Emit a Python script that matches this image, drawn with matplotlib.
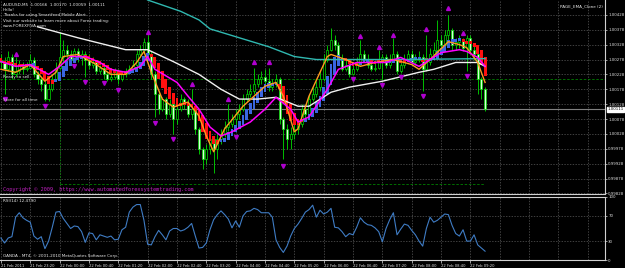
import matplotlib
matplotlib.use("Agg")
import matplotlib.pyplot as plt
import matplotlib.transforms as mtransforms
import numpy as np

# AUDUSD M5 bars, 21 Feb 22:40 .. 22 Feb 09:40
first_open = 1.00278
closes = [1.00271, 1.00245, 1.00285, 1.00228, 1.00238, 1.00261, 1.00245, 1.00251, 1.00278, 1.00228,
          1.00211, 1.00195, 1.00145, 1.00178, 1.00211, 1.00251, 1.00285, 1.00311, 1.00295, 1.00278,
          1.00305, 1.00285, 1.00295, 1.00278, 1.00261, 1.00271, 1.00238, 1.00251, 1.00228, 1.00211,
          1.00218, 1.00238, 1.00211, 1.00228, 1.00238, 1.00245, 1.00261, 1.00295, 1.00311, 1.00338,
          1.00295, 1.00228, 1.00161, 1.00111, 1.00145, 1.00095, 1.00128, 1.00078, 1.00111, 1.00145,
          1.00128, 1.00095, 1.00111, 1.00045, 0.99978, 0.99945, 0.99978, 1.00011, 0.99978, 1.00011,
          1.00028, 1.00051, 1.00061, 1.00078, 1.00095, 1.00111, 1.00145, 1.00161, 1.00171, 1.00195,
          1.00211, 1.00218, 1.00205, 1.00185, 1.00195, 1.00211, 1.00078, 1.00045, 1.00011, 1.00028,
          1.00045, 1.00061, 1.00111, 1.00095, 1.00145, 1.00161, 1.00185, 1.00211, 1.00278, 1.00311,
          1.00345, 1.00328, 1.00278, 1.00245, 1.00261, 1.00228, 1.00245, 1.00271, 1.00295, 1.00278,
          1.00261, 1.00245, 1.00251, 1.00271, 1.00285, 1.00261, 1.00278, 1.00295, 1.00238, 1.00261,
          1.00278, 1.00295, 1.00271, 1.00278, 1.00285, 1.00245, 1.00271, 1.00295, 1.00311, 1.00345,
          1.00328, 1.00361, 1.00378, 1.00328, 1.00338, 1.00345, 1.00318, 1.00351, 1.00311, 1.00295,
          1.00211, 1.00178, 1.00111]
highs = [1.00295, 1.00285, 1.00305, 1.00295, 1.00285, 1.00278, 1.00271, 1.00271, 1.00295, 1.00285,
         1.00238, 1.00218, 1.00205, 1.00195, 1.00228, 1.00271, 1.00371, 1.00345, 1.00328, 1.00311,
         1.00318, 1.00318, 1.00311, 1.00305, 1.00295, 1.00285, 1.00278, 1.00261, 1.00261, 1.00238,
         1.00238, 1.00251, 1.00245, 1.00238, 1.00251, 1.00261, 1.00278, 1.00311, 1.00328, 1.00351,
         1.00361, 1.00305, 1.00238, 1.00171, 1.00151, 1.00151, 1.00145, 1.00138, 1.00128, 1.00161,
         1.00151, 1.00145, 1.00178, 1.00118, 1.00051, 0.99985, 0.99995, 1.00018, 1.00018, 1.00028,
         1.00045, 1.00071, 1.00128, 1.00095, 1.00111, 1.00128, 1.00161, 1.00178, 1.00195, 1.00251,
         1.00228, 1.00238, 1.00245, 1.00251, 1.00211, 1.00228, 1.00218, 1.00085, 1.00061, 1.00051,
         1.00061, 1.00078, 1.00128, 1.00128, 1.00161, 1.00185, 1.00205, 1.00238, 1.00295, 1.00328,
         1.00385, 1.00361, 1.00338, 1.00295, 1.00278, 1.00278, 1.00261, 1.00285, 1.00345, 1.00311,
         1.00295, 1.00271, 1.00278, 1.00311, 1.00295, 1.00295, 1.00295, 1.00351, 1.00305, 1.00278,
         1.00295, 1.00311, 1.00311, 1.00295, 1.00305, 1.00295, 1.00361, 1.00318, 1.00338, 1.00411,
         1.00361, 1.00378, 1.00428, 1.00385, 1.00351, 1.00361, 1.00351, 1.00361, 1.00361, 1.00328,
         1.00311, 1.00218, 1.00185]
lows = [1.00251, 1.00161, 1.00238, 1.00211, 1.00218, 1.00228, 1.00228, 1.00238, 1.00245, 1.00218,
        1.00195, 1.00171, 1.00138, 1.00138, 1.00171, 1.00205, 1.00245, 1.00271, 1.00278, 1.00271,
        1.00271, 1.00271, 1.00261, 1.00218, 1.00245, 1.00251, 1.00228, 1.00228, 1.00211, 1.00205,
        1.00205, 1.00211, 1.00195, 1.00205, 1.00218, 1.00228, 1.00238, 1.00251, 1.00285, 1.00295,
        1.00285, 1.00211, 1.00085, 1.00095, 1.00105, 1.00078, 1.00085, 1.00028, 1.00061, 1.00105,
        1.00111, 1.00085, 1.00078, 1.00028, 0.99961, 0.99911, 0.99928, 0.99961, 0.99895, 0.99945,
        0.99995, 1.00018, 1.00038, 1.00051, 1.00038, 1.00078, 1.00105, 1.00138, 1.00151, 1.00161,
        1.00185, 1.00195, 1.00195, 1.00171, 1.00171, 1.00185, 1.00061, 0.99945, 0.99978, 0.99978,
        1.00011, 1.00028, 1.00051, 1.00078, 1.00085, 1.00138, 1.00151, 1.00171, 1.00205, 1.00271,
        1.00305, 1.00311, 1.00271, 1.00238, 1.00238, 1.00218, 1.00225, 1.00238, 1.00261, 1.00271,
        1.00251, 1.00238, 1.00238, 1.00245, 1.00211, 1.00251, 1.00251, 1.00271, 1.00228, 1.00231,
        1.00251, 1.00271, 1.00261, 1.00261, 1.00271, 1.00171, 1.00238, 1.00261, 1.00285, 1.00305,
        1.00311, 1.00318, 1.00345, 1.00311, 1.00311, 1.00318, 1.00305, 1.00238, 1.00295, 1.00278,
        1.00161, 1.00145, 1.00105]

# fractal arrows
up_idx = [4, 40, 52, 62, 69, 73, 98, 103, 107, 116, 122, 126]
up_val = [1.00298, 1.00371, 1.00195, 1.00145, 1.00268, 1.00271, 1.00358, 1.00321, 1.00361,
          1.00381, 1.00451, 1.00368]
down_idx = [1, 12, 20, 23, 28, 32, 42, 47, 64, 77, 96, 104, 109, 115, 127]
down_val = [1.00145, 1.00121, 1.00255, 1.00201, 1.00198, 1.00175, 1.00065, 1.00011, 1.00018,
            0.99921, 1.00211, 1.00191, 1.00218, 1.00155, 1.00221]

# moving averages
orange_idx = [0, 4, 8, 12, 15, 17, 21, 26, 30, 34, 37, 39, 41, 44, 47, 51, 54, 56, 58, 61,
              66, 72, 75, 77, 80, 81, 84, 89, 90, 94, 98, 102, 107, 112, 114, 117, 122, 125, 127, 130, 132]
orange_val = [1.00245, 1.00235, 1.00261, 1.00205, 1.00235, 1.00288, 1.00295, 1.00261, 1.00228, 1.00228,
              1.00268, 1.00305, 1.00235, 1.00145, 1.00118, 1.00135, 1.00088, 1.00021, 0.99968, 1.00045,
              1.00121, 1.00188, 1.00201, 1.00155, 1.00035, 1.00045, 1.00155, 1.00288, 1.00295, 1.00278,
              1.00255, 1.00268, 1.00278, 1.00261, 1.00245, 1.00278, 1.00338, 1.00328, 1.00318, 1.00268, 1.00201]
magenta_idx = [0, 4, 8, 13, 16, 19, 23, 27, 30, 34, 38, 40, 42, 48, 51, 54, 57, 60, 63, 68,
               72, 75, 79, 81, 84, 89, 92, 97, 105, 109, 114, 117, 120, 125, 127, 130, 132]
magenta_val = [1.00271, 1.00255, 1.00261, 1.00228, 1.00255, 1.00288, 1.00288, 1.00268, 1.00245, 1.00235,
               1.00255, 1.00288, 1.00245, 1.00201, 1.00155, 1.00111, 1.00051, 1.00021, 1.00035, 1.00068,
               1.00111, 1.00151, 1.00111, 1.00068, 1.00085, 1.00178, 1.00245, 1.00268, 1.00268, 1.00285,
               1.00255, 1.00278, 1.00301, 1.00311, 1.00305, 1.00285, 1.00255]
white_idx = [10, 21, 34, 40, 47, 54, 60, 65, 70, 75, 81, 84, 90, 95, 104, 114, 118, 124, 130, 132]
white_val = [1.00388, 1.00351, 1.00311, 1.00311, 1.00271, 1.00228, 1.00178, 1.00145, 1.00145, 1.00151,
             1.00121, 1.00121, 1.00168, 1.00185, 1.00205, 1.00235, 1.00245, 1.00268, 1.00268, 1.00255]
teal_idx = [40, 49, 54, 57, 65, 73, 80, 86, 109, 132]
teal_val = [1.00478, 1.00440, 1.00411, 1.00381, 1.00351, 1.00321, 1.00288, 1.00278, 1.00278, 1.00281]

rsi = [35, 27, 35, 37, 68, 75, 67, 63, 60, 38,
       33, 37, 18, 30, 52, 76, 77, 66, 58, 50,
       54, 53, 45, 28, 43, 42, 32, 40, 38, 36,
       38, 32, 33, 48, 52, 76, 84, 88, 88, 63,
       25, 24, 37, 47, 40, 32, 46, 50, 50, 46,
       48, 52, 58, 38, 19, 20, 27, 48, 64, 72,
       78, 72, 65, 51, 62, 52, 70, 77, 78, 82,
       80, 75, 75, 75, 68, 32, 20, 12, 22, 38,
       50, 57, 66, 76, 80, 87, 68, 79, 73, 76,
       82, 52, 51, 45, 37, 42, 40, 52, 67, 60,
       56, 55, 51, 45, 29, 50, 64, 75, 40, 49,
       57, 55, 47, 40, 30, 22, 50, 68, 60, 63,
       68, 73, 72, 55, 42, 38, 48, 30, 30, 40,
       24, 19, 14]

price_ticks = [1.00428, 1.00378, 1.00328, 1.00278, 1.00228, 1.00178, 1.00128, 1.00078,
               1.00028, 0.99978, 0.99928, 0.99878, 0.99828]
time_labels = ["21 Feb 2011", "21 Feb 23:20", "22 Feb 00:00", "22 Feb 00:40", "22 Feb 01:20",
               "22 Feb 02:00", "22 Feb 02:40", "22 Feb 03:20", "22 Feb 04:00", "22 Feb 04:40",
               "22 Feb 05:20", "22 Feb 06:00", "22 Feb 06:40", "22 Feb 07:20", "22 Feb 08:00",
               "22 Feb 08:40", "22 Feb 09:20"]
last_price = 1.00111
sell_level = 1.00211
box_low = 0.99861

C = np.array(closes)
Hh = np.array(highs)
L = np.array(lows)
O = np.array([first_open] + closes[:-1])   # each bar opens at the previous close
idx = np.arange(len(C))

W, H = 625, 268
RX = 605  # right edge of the chart area in pixels
fig = plt.figure(figsize=(6.25, 2.68), dpi=100, facecolor="black")
ax = fig.add_axes([0, 1 - 194 / H, RX / W, 194 / H], facecolor="black")
rx = fig.add_axes([0, 1 - 260 / H, RX / W, 63 / H], facecolor="black")

gridc = "#5a5a5a"
dash = (0, (2, 2))
xl = (-0.25, 164.7)
for a in (ax, rx):
    a.set_xlim(*xl)
    for g in range(0, 166, 8):
        a.axvline(g, color=gridc, lw=0.5, ls=dash, zorder=0)
    for s in ("left", "top"):
        a.spines[s].set_visible(False)
    for s in ("right", "bottom"):
        a.spines[s].set_color("#d0d0d0")
        a.spines[s].set_linewidth(0.8)
rx.spines["top"].set_visible(True)
rx.spines["top"].set_color("#d0d0d0")
rx.spines["top"].set_linewidth(0.8)

# ---- main window ----
ax.set_ylim(0.99826, 1.00478)
for p in price_ticks:
    ax.axhline(p, color=gridc, lw=0.5, ls=dash, zorder=0)

ax.axhline(sell_level, color="#008000", lw=0.6, ls=(0, (3, 2)), zorder=1)
ax.plot([16, 132], [box_low, box_low], color="#008000", lw=0.6, ls=(0, (3, 2)), zorder=1)
ax.plot([16, 16], [box_low, 1.00311], color="#008000", lw=0.6, ls=(0, (2, 2)), zorder=1)
ax.axhline(last_price, color="#808080", lw=0.8, zorder=1)

# candles
lime = "#00dd00"
ax.vlines(idx, L, Hh, color=lime, lw=0.6, zorder=2)
bull = C >= O
body_lo = np.minimum(O, C)
body_h = np.maximum(np.abs(C - O), 0.000012)
ax.bar(idx[bull], body_h[bull], bottom=body_lo[bull], width=0.6, facecolor="black",
       edgecolor=lime, lw=0.5, zorder=3)
ax.bar(idx[~bull], body_h[~bull], bottom=body_lo[~bull], width=0.6, facecolor="#d8ffd8",
       edgecolor=lime, lw=0.5, zorder=3)


# smoothed heiken ashi histogram from the bars
def ema(x, n):
    a = 2.0 / (n + 1)
    out = np.empty_like(x)
    out[0] = x[0]
    for k in range(1, len(x)):
        out[k] = out[k - 1] + a * (x[k] - out[k - 1])
    return out


so, sh, sl, sc = ema(O, 5), ema(Hh, 5), ema(L, 5), ema(C, 5)
ha_c = (so + sh + sl + sc) / 4
ha_o = np.empty_like(ha_c)
ha_o[0] = (so[0] + sc[0]) / 2
for k in range(1, len(ha_c)):
    ha_o[k] = (ha_o[k - 1] + ha_c[k - 1]) / 2
ha_lo = np.minimum(ha_o, ha_c)
ha_h = np.maximum(np.abs(ha_c - ha_o), 0.0001)
ha_col = np.where(ha_c >= ha_o, "#3a66e0", "#ff1010")
ax.bar(idx, ha_h, bottom=ha_lo, width=0.8, color=ha_col, zorder=4)

ax.plot(teal_idx, teal_val, color="#30b8b0", lw=1.0, zorder=5)
ax.plot(white_idx, white_val, color="#f0f0f0", lw=1.0, zorder=5)
ax.plot(orange_idx, orange_val, color="#ff9a20", lw=1.0, zorder=6)
ax.plot(magenta_idx, magenta_val, color="#ff00ff", lw=1.1, zorder=6)

ax.plot(up_idx, up_val, ls="none", marker="^", ms=2.8, color="#b000d0", zorder=7)
ax.plot(down_idx, down_val, ls="none", marker="v", ms=2.8, color="#b000d0", zorder=7)

ax.set_xticks([])
ax.yaxis.tick_right()
ax.set_yticks(price_ticks)
ax.set_yticklabels([f"{p:.5f}" for p in price_ticks])
ax.tick_params(axis="y", colors="#e0e0e0", labelsize=2.8, length=1.5, width=0.5, pad=0.8)
tr = mtransforms.blended_transform_factory(ax.transAxes, ax.transData)
ax.text(1.004, last_price, f"{last_price:.5f}", transform=tr, fontsize=2.8, color="black",
        va="center", ha="left", clip_on=False,
        bbox=dict(boxstyle="square,pad=0.15", fc="white", ec="white"))

# ---- RSI window ----
rx.set_ylim(0, 100)
for lv in (30, 70):
    rx.axhline(lv, color=gridc, lw=0.5, ls=dash, zorder=0)
rx.plot(idx, rsi, color="#3f7cc4", lw=0.8, zorder=3)
rx.yaxis.tick_right()
rx.set_yticks([0, 30, 70, 100])
rx.set_yticklabels(["0", "30", "70", "100"])
rx.tick_params(axis="y", colors="#e0e0e0", labelsize=2.8, length=1.5, width=0.5, pad=0.8)
rx.set_xticks(list(range(0, 129, 8)))
rx.set_xticklabels(time_labels, ha="left")
rx.tick_params(axis="x", colors="#e0e0e0", labelsize=2.7, length=2, width=0.5, pad=0.8)

# ---- texts ----
def ftext(x, y, s, **kw):
    fig.text(x / W, 1 - y / H, s, va="center", ha=kw.pop("ha", "left"), **kw)


wtxt = dict(color="#e8e8e8", fontsize=3.0)
ftext(3, 5, "AUDUSD,M5  1.00166  1.00170  1.00059  1.00111", **wtxt)
ftext(3, 10, "Hello!", **wtxt)
ftext(3, 15, "Thanks for using Smartfeed Mobile Alert.", **wtxt)
ftext(3, 21, "Visit our website to learn more about Forex trading:", **wtxt)
ftext(3, 26, "www.FOREXFIVA.com", **wtxt)
ftext(603, 6, "PAGE_EMA_Clone (2)", ha="right", **wtxt)
ftext(3, 77, "Ready to sell", **wtxt)
ftext(3, 100, "Store for all time", **wtxt)
ftext(3, 190, "Copyright \u00a9 2009, https://www.automatedforexsystemtrading.com",
      color="#c020c0", fontsize=3.8, family="DejaVu Sans Mono")
ftext(3, 201, "RSI(14) 12.4790", **wtxt)
ftext(3, 256, "OANDA - MT4, \u00a9 2001-2010 MetaQuotes Software Corp.", **wtxt)

fig.savefig("out.png", dpi=100, facecolor="black")
